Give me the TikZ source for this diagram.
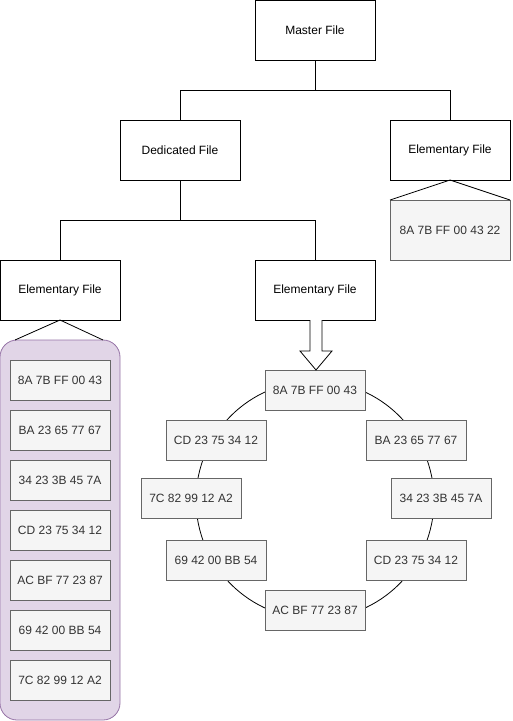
\documentclass[tikz,border=0pt]{standalone}
\usepackage{fontspec}
\setmainfont{Liberation Sans}
\usetikzlibrary{positioning}
\definecolor{recfill}{HTML}{F5F5F5}
\definecolor{recdraw}{HTML}{666666}
\definecolor{rectext}{HTML}{333333}
\definecolor{binfill}{HTML}{E1D5E7}
\definecolor{bindraw}{HTML}{9673A6}

\begin{document}
\begin{tikzpicture}[x=1pt,y=-1pt,line width=0.8pt,
        file/.style={draw,fill=white,minimum width=120pt,minimum height=60pt,inner sep=0pt,outer sep=0pt,font=\fontsize{12}{14}\selectfont},
        rec/.style={file,draw=recdraw,fill=recfill,text=rectext,minimum width=100pt,minimum height=40pt},
        bin/.style={draw=bindraw,fill=binfill,rounded corners=17pt,minimum width=120pt,minimum height=380pt,outer sep=0pt},
        ring/.style={draw,circle,minimum size=238pt,inner sep=0pt},
        link/.style={draw}
      ]
  \useasboundingbox (0,0) rectangle (513,721);

  \node   (master) [file] at (315,30) {Master File};
  \node   (dedicated) [file] at (180,150) {Dedicated File};
  \node   (efright) [file] at (450,150) {Elementary File};
  \node   (efleft) [file] at (60,290) {Elementary File};
  \node   (efmid) [file] at (315,290) {Elementary File};

  \draw[link] (master.south) -- ++(0,30) -| (dedicated.north);
  \draw[link] (master.south) -- ++(0,30) -| (efright.north);
  \draw[link] (dedicated.south) -- ++(0,40) -| (efleft.north);
  \draw[link] (dedicated.south) -- ++(0,40) -| (efmid.north);

  % transparent record
  \node   (single) [rec,minimum width=120pt,minimum height=60pt] at (450,230) {8A 7B FF 00 43 22};
  \draw[link] (efright.south) -- (single.north west);
  \draw[link] (efright.south) -- (single.north east);

  % linear fixed records
  \node   (bin) [bin] at (60,530) {};
  \draw[link] (efleft.south) -- ([xshift=15pt]bin.north west);
  \draw[link] (efleft.south) -- ([xshift=-17pt]bin.north east);
  \node   (lin1) [rec] at (60,380) {8A 7B FF 00 43};
  \node   (lin2) [rec,below=10pt of lin1] {BA 23 65 77 67};
  \node   (lin3) [rec,below=10pt of lin2] {34 23 3B 45 7A};
  \node   (lin4) [rec,below=10pt of lin3] {CD 23 75 34 12};
  \node   (lin5) [rec,below=10pt of lin4] {AC BF 77 23 87};
  \node   (lin6) [rec,below=10pt of lin5] {69 42 00 BB 54};
  \node   (lin7) [rec,below=10pt of lin6] {7C 82 99 12 A2};

  % cyclic records
  \node   (ring) [ring] at (315,500) {};
  \node   (cyc1) [rec] at (315,390) {8A 7B FF 00 43};
  \node   (cyc2) [rec] at (416,440) {BA 23 65 77 67};
  \node   (cyc3) [rec] at (441,498) {34 23 3B 45 7A};
  \node   (cyc4) [rec] at (416,560) {CD 23 75 34 12};
  \node   (cyc5) [rec] at (315,610) {AC BF 77 23 87};
  \node   (cyc6) [rec] at (216,560) {69 42 00 BB 54};
  \node   (cyc7) [rec] at (191,498) {7C 82 99 12 A2};
  \node   (cyc8) [rec] at (216,440) {CD 23 75 34 12};

  \coordinate (shaft) at ([xshift=1pt]efmid.south);
  \draw[fill=white] ([xshift=-6pt]shaft) -- ([xshift=-6pt,yshift=-31pt]shaft)
        -- ([xshift=-16pt,yshift=-31pt]shaft) -- (cyc1.north -| shaft)
        -- ([xshift=16pt,yshift=-31pt]shaft) -- ([xshift=6pt,yshift=-31pt]shaft)
        -- ([xshift=6pt]shaft);

\end{tikzpicture}
\end{document}
